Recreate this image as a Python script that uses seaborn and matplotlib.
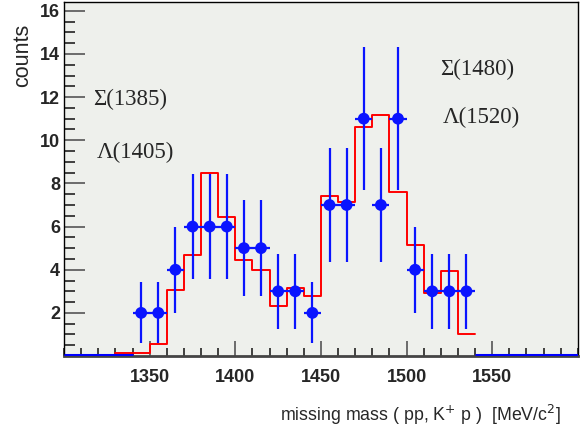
import numpy as np
import seaborn as sns
from matplotlib import pyplot as plt
from matplotlib.ticker import MultipleLocator, FixedLocator

# measured counts (bin centres, 10 MeV bins)
mass = [1345, 1355, 1365, 1375, 1385, 1395, 1405, 1415, 1425, 1435,
        1445, 1455, 1465, 1475, 1485, 1495, 1505, 1515, 1525, 1535]
counts = [2, 2, 4, 6, 6, 6, 5, 5, 3, 3,
          2, 7, 7, 11, 7, 11, 4, 3, 3, 3]
count_err = [1.41, 1.41, 2.0, 2.45, 2.45, 2.45, 2.24, 2.24, 1.73, 1.73,
             1.41, 2.65, 2.65, 3.32, 2.65, 3.32, 2.0, 1.73, 1.73, 1.73]

# simulation (red histogram)
sim_edges = [1330, 1340, 1350, 1360, 1370, 1380, 1390, 1400, 1410, 1420, 1430,
             1440, 1450, 1460, 1470, 1480, 1490, 1500, 1510, 1520, 1530, 1540]
sim_counts = [0.12, 0.12, 0.55, 3.05, 4.67, 8.5, 6.45, 4.44, 4.0, 2.3, 3.13,
              2.8, 7.42, 7.16, 10.6, 11.16, 7.58, 5.14, 2.9, 3.95, 1.02]

labels_left = ["Σ(1385)", "Λ(1405)"]
labels_right = ["Σ(1480)", "Λ(1520)"]

sns.set_style("ticks")
plt.rcParams['font.family'] = ['Liberation Sans', 'DejaVu Sans']

fig = plt.figure(figsize=(5.83, 4.3), dpi=100)
ax = fig.add_axes([0.11, 0.172, 0.881, 0.823])
ax.set_facecolor("#eef0ec")

sim_centres = [(a + b) / 2 for a, b in zip(sim_edges[:-1], sim_edges[1:])]
sns.histplot(x=sim_centres, weights=sim_counts, bins=sim_edges, element="step",
             fill=False, color="#ff0000", linewidth=1.4, ax=ax)

ax.errorbar(mass, counts, yerr=count_err, xerr=5, fmt="none",
            ecolor="#0a14ff", elinewidth=1.6, capsize=0, zorder=3)
sns.scatterplot(x=mass, y=counts, color="#0a14ff", s=72, edgecolor="none",
                zorder=4, ax=ax)

# empty bins of the data histogram
ax.hlines(0.04, 1300, mass[0] - 5, color="#0000ff", lw=2.2, zorder=5)
ax.hlines(0.04, sim_edges[-1], 1600, color="#0000ff", lw=2.2, zorder=5)

ax.set_xlim(1300, 1600)
ax.set_ylim(0, 16.4)
ax.xaxis.set_major_locator(FixedLocator([1350, 1400, 1450, 1500, 1550]))
ax.xaxis.set_minor_locator(MultipleLocator(10))
ax.yaxis.set_major_locator(FixedLocator([2, 4, 6, 8, 10, 12, 14, 16]))
ax.yaxis.set_minor_locator(MultipleLocator(0.5))
ax.tick_params(which="both", direction="in", width=1.2,
               labelsize=13, top=False, right=False)
ax.tick_params(which="major", color="#555555")
ax.tick_params(which="minor", color="#222222")
ax.tick_params(axis="y", which="major", length=15, pad=3)
ax.tick_params(axis="y", which="minor", length=8)
ax.tick_params(axis="x", which="major", length=11, pad=9)
ax.tick_params(axis="x", which="minor", length=6)
for lab in ax.get_xticklabels() + ax.get_yticklabels():
    lab.set_fontweight("bold")

for side in ["top", "right", "left"]:
    ax.spines[side].set_color("black")
    ax.spines[side].set_linewidth(1.0)
ax.spines["bottom"].set_color("#444444")
ax.spines["bottom"].set_linewidth(2.0)

ax.set_ylabel("")
ax.set_xlabel("")
fig.text(0.038, 0.872, "counts", rotation=90, fontsize=15.5, ha="center", va="center")
fig.text(0.961, 0.035, "missing mass ( pp, K$^{+}$ p )  [MeV/c$^{2}$]",
         fontsize=12.8, ha="right", va="center")

serif = ['Liberation Serif', 'DejaVu Serif']
ax.text(1317, 11.9, labels_left[0], family=serif, fontsize=16.5, va="center")
ax.text(1319.3, 9.42, labels_left[1], family=serif, fontsize=16.5, va="center")
ax.text(1519.5, 13.29, labels_right[0], family=serif, fontsize=16.5, va="center")
ax.text(1521, 11.06, labels_right[1], family=serif, fontsize=16.5, va="center")

fig.savefig("out.png", dpi=100)
